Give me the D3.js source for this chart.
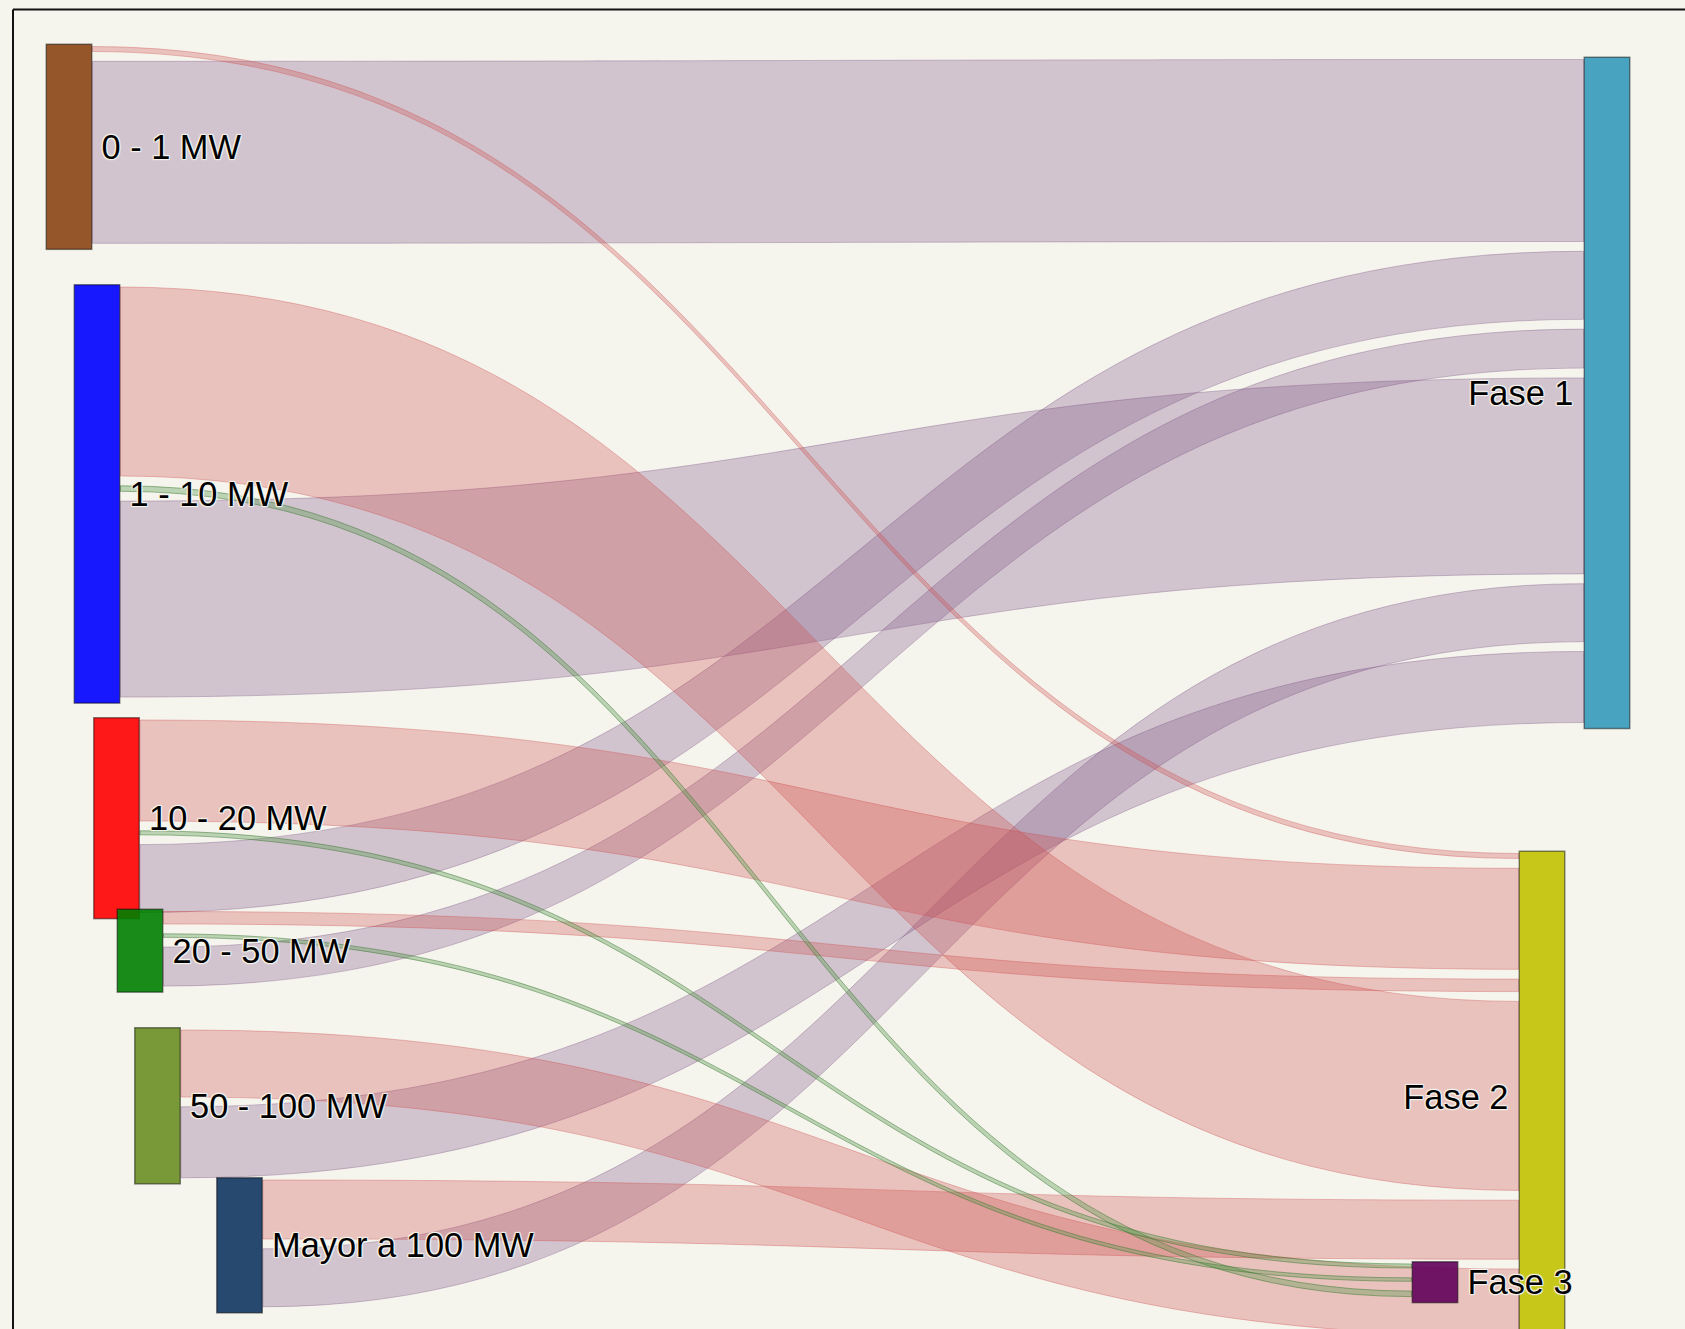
<!DOCTYPE html>
<html>
<head>
<meta charset="utf-8">
<script src="https://cdn.jsdelivr.net/npm/d3@7"></script>
<style>
  html, body { margin: 0; padding: 0; background: #f5f5ee; }
  svg { display: block; }
  .lbl {
    font-family: "Liberation Sans", Arial, Helvetica, sans-serif;
    font-size: 34.4px;
    fill: #000;
    text-shadow: 1px 1px 1px #f5f5ee, -1px -1px 1px #f5f5ee, 1px -1px 1px #f5f5ee, -1px 1px 1px #f5f5ee;
  }
</style>
</head>
<body>
<svg id="chart" width="1685" height="1329"></svg>
<script>
// ---------------- DATA ----------------
const sources = ["0 - 1 MW", "1 - 10 MW", "10 - 20 MW", "20 - 50 MW", "50 - 100 MW", "Mayor a 100 MW"];
const targets = ["Fase 1", "Fase 2", "Fase 3"];
// flow from each source (same order as `sources`) into each phase
const toFase1 = [182, 196, 68, 39, 71, 58];
const toFase2 = [5, 189, 101, 12.5, 67, 59];
const toFase3 = [0, 5.5, 4, 3.5, 0, 0];

// ---------------- LAYOUT (node arrangement, like a hand-arranged sankey) ----------------
const sourceX = [45.5, 73.5, 93, 116.5, 134, 216];
const sourceY = [43.5, 284, 717, 908.5, 1027, 1177];
const targetX = [1583.5, 1518.5, 1411.5];
const targetY = [56.5, 850.5, 1261];
const targetLabelSide = ["left", "left", "right"];
const targetOrderAtSource = ["Fase 2", "Fase 3", "Fase 1"];
const sourceOrderAtTarget = ["0 - 1 MW", "10 - 20 MW", "20 - 50 MW", "1 - 10 MW", "Mayor a 100 MW", "50 - 100 MW"];
const nodeWidth = 47;
const linkGap = 9.8;
const linkOffset = 3;

// ---------------- STYLES ----------------
const sourceColors = ["rgb(139,69,19)", "rgb(0,0,255)", "rgb(255,0,0)", "rgb(0,128,0)", "rgb(107,142,35)", "rgb(17,53,96)"];
const targetColors = ["rgb(52,154,185)", "rgb(193,194,0)", "rgb(98,0,91)"];
const linkFill = ["rgba(125,82,131,0.3)", "rgba(205,75,75,0.3)", "rgba(80,150,70,0.35)"];
const linkStroke = ["rgba(125,82,131,0.35)", "rgba(205,75,75,0.35)", "rgba(60,120,50,0.5)"];

// ---------------- BUILD ----------------
const svg = d3.select("#chart");
const W = 1685, H = 1329;

svg.append("rect").attr("x", 0).attr("y", 0).attr("width", W).attr("height", H).attr("fill", "#f5f5ee");

const thickness = d3.scaleLinear().domain([0, 1]).range([0, 1]);

const nodes = [];
sources.forEach((name, i) => nodes.push({ name, x: sourceX[i], y: sourceY[i], color: sourceColors[i], side: "right", out: [], inn: [] }));
targets.forEach((name, i) => nodes.push({ name, x: targetX[i], y: targetY[i], color: targetColors[i], side: targetLabelSide[i], out: [], inn: [] }));
const byName = new Map(nodes.map(n => [n.name, n]));

const flows = [toFase1, toFase2, toFase3];
const links = [];
targets.forEach((t, ti) => {
  sources.forEach((s, si) => {
    const v = flows[ti][si];
    if (v > 0) {
      const l = { source: byName.get(s), target: byName.get(t), value: v, ti };
      links.push(l);
      l.source.out.push(l);
      l.target.inn.push(l);
    }
  });
});

nodes.forEach(n => {
  n.out.sort((a, b) => targetOrderAtSource.indexOf(a.target.name) - targetOrderAtSource.indexOf(b.target.name));
  n.inn.sort((a, b) => sourceOrderAtTarget.indexOf(a.source.name) - sourceOrderAtTarget.indexOf(b.source.name));
  let y = n.y + linkOffset;
  n.out.forEach(l => { l.y0 = y; y += thickness(l.value) + linkGap; });
  y = n.y + linkOffset;
  n.inn.forEach(l => { l.y1 = y; y += thickness(l.value) + linkGap; });
  const list = n.out.length ? n.out : n.inn;
  n.h = d3.sum(list, l => thickness(l.value)) + list.length * linkGap;
});

function linkPath(l) {
  const x0 = l.source.x + nodeWidth, x1 = l.target.x;
  const xi = d3.interpolateNumber(x0, x1);
  const xa = xi(0.5), xb = xi(0.5);
  const d = thickness(l.value);
  const p = d3.path();
  p.moveTo(x0, l.y0);
  p.bezierCurveTo(xa, l.y0, xb, l.y1, x1, l.y1);
  p.lineTo(x1, l.y1 + d);
  p.bezierCurveTo(xb, l.y1 + d, xa, l.y0 + d, x0, l.y0 + d);
  p.closePath();
  return p.toString();
}

svg.append("g").selectAll("path")
  .data(links)
  .join("path")
  .attr("d", linkPath)
  .attr("fill", d => linkFill[d.ti])
  .attr("stroke", d => linkStroke[d.ti])
  .attr("stroke-width", 1);

svg.append("g").selectAll("rect")
  .data(nodes)
  .join("rect")
  .attr("x", d => d.x + 0.75)
  .attr("y", d => d.y + 0.75)
  .attr("width", nodeWidth - 1.5)
  .attr("height", d => d.h - 1.5)
  .attr("fill", d => d.color)
  .attr("fill-opacity", 0.9)
  .attr("stroke", "rgba(0,0,0,0.45)")
  .attr("stroke-width", 1.5);

svg.append("g").selectAll("text")
  .data(nodes)
  .join("text")
  .attr("class", "lbl")
  .attr("x", d => d.side === "right" ? d.x + nodeWidth + 9 : d.x - 10)
  .attr("y", d => d.y + d.h / 2)
  .attr("dy", "0.35em")
  .attr("text-anchor", d => d.side === "right" ? "start" : "end")
  .text(d => d.name);

// plot frame (top and left edges visible)
svg.append("line").attr("x1", 13).attr("y1", 9.5).attr("x2", W).attr("y2", 9.5).attr("stroke", "#111").attr("stroke-width", 2);
svg.append("line").attr("x1", 13).attr("y1", 9.5).attr("x2", 13).attr("y2", H).attr("stroke", "#111").attr("stroke-width", 2);
</script>
</body>
</html>
